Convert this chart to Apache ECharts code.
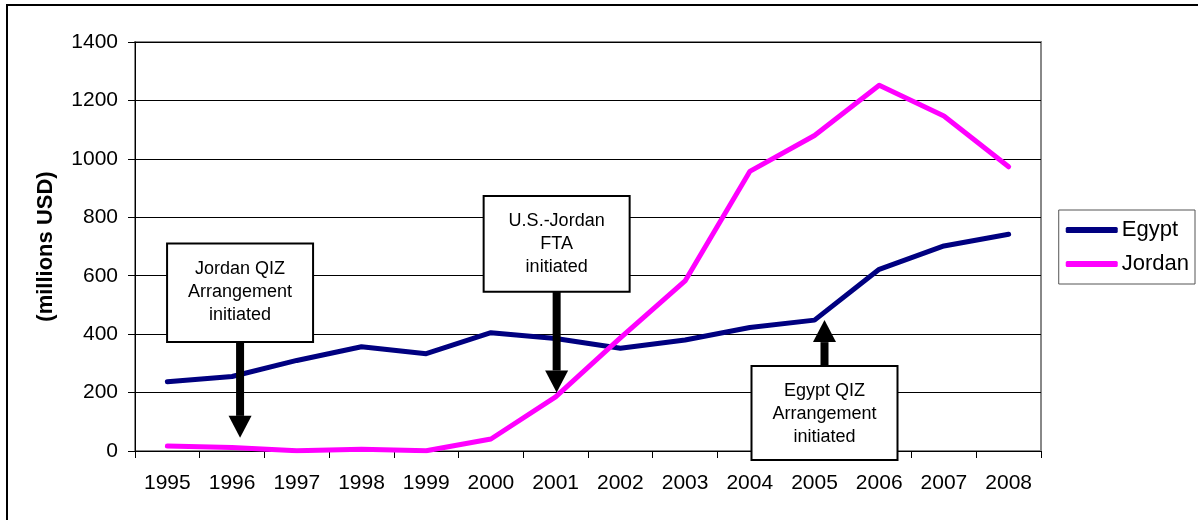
<!DOCTYPE html>
<html>
<head>
<meta charset="utf-8">
<script src="https://cdn.jsdelivr.net/npm/echarts@6/dist/echarts.min.js"></script>
<style>
  html, body { margin: 0; padding: 0; background: #fff; }
  #chart { width: 1198px; height: 520px; }
</style>
</head>
<body>
<div id="chart"></div>
<script>
// Years on the category axis
const years = ['1995', '1996', '1997', '1998', '1999', '2000', '2001',
               '2002', '2003', '2004', '2005', '2006', '2007', '2008'];

// QIZ / FTA exports, millions USD
const egypt  = [237, 255, 310, 357, 333, 405, 385, 352, 380, 423, 448, 622, 702, 742];
const jordan = [17, 12, 1, 6, 1, 41, 185, 387, 582, 957, 1080, 1252, 1147, 973];

// Value-axis ticks
const yTicks = [0, 200, 400, 600, 800, 1000, 1200, 1400];

// Event callouts: label, year of the event, value the arrow points at,
// value range covered by the box, and a small horizontal nudge in px
const calloutText  = ['Jordan QIZ\nArrangement\ninitiated', 'U.S.-Jordan\nFTA\ninitiated', 'Egypt QIZ\nArrangement\ninitiated'];
const calloutYear  = ['1996', '2001', '2005'];
const calloutTip   = [45, 200, 448];
const calloutBoxTop = [710, 873, 291];
const calloutBoxBot = [373, 545, -31];
const calloutShift = [8, 1, 10];

const FONT = 'Liberation Sans, Arial, sans-serif';

const chart = echarts.init(document.getElementById('chart'), null, { renderer: 'canvas' });

chart.setOption({
  backgroundColor: '#ffffff',
  animation: false,
  grid: { left: 135, right: 157, top: 42, bottom: 69, containLabel: false,
          show: true, borderColor: '#888888', borderWidth: 2, backgroundColor: 'transparent' },
  legend: {
    right: 3, top: 210, orient: 'vertical',
    itemWidth: 52, itemHeight: 6, itemGap: 12,
    padding: [9, 6, 9, 7],
    borderColor: '#555555', borderWidth: 1,
    icon: 'roundRect',
    textStyle: { fontFamily: FONT, fontSize: 22, color: '#000', padding: [0, 0, 0, -1] },
    data: ['Egypt', 'Jordan']
  },
  xAxis: {
    type: 'category',
    data: years,
    boundaryGap: true,
    axisLine: { lineStyle: { color: '#000', width: 1 } },
    axisTick: { show: true, length: 7, lineStyle: { color: '#000' } },
    axisLabel: { fontFamily: FONT, fontSize: 21, color: '#000', margin: 22 },
    splitLine: { show: false }
  },
  yAxis: {
    type: 'value',
    min: yTicks[0], max: yTicks[yTicks.length - 1], interval: 200,
    name: '(millions USD)',
    nameLocation: 'middle', nameGap: 78, nameRotate: 90,
    nameTextStyle: { fontFamily: FONT, fontSize: 22, fontWeight: 'bold', color: '#000' },
    axisLine: { show: true, lineStyle: { color: '#000', width: 1 } },
    axisTick: { show: true, length: 7, lineStyle: { color: '#000' } },
    axisLabel: { fontFamily: FONT, fontSize: 21, color: '#000', margin: 17,
                 formatter: v => String(v) },
    splitLine: { show: true, lineStyle: { color: '#000', width: 1 } }
  },
  series: [
    { name: 'Egypt', type: 'line', data: egypt, symbol: 'none',
      lineStyle: { color: '#000080', width: 5, cap: 'round', join: 'round' },
      itemStyle: { color: '#000080' }, z: 3 },
    { name: 'Jordan', type: 'line', data: jordan, symbol: 'none',
      lineStyle: { color: '#ff00ff', width: 5, cap: 'round', join: 'round' },
      itemStyle: { color: '#ff00ff' }, z: 4 }
  ]
});

// Callout boxes with thick arrows, placed from data coordinates
function drawCallouts() {
  const els = [
    // outer frame of the whole figure
    { type: 'rect', shape: { x: 7, y: 5, width: 1300, height: 600 },
      style: { fill: 'none', stroke: '#000', lineWidth: 2 }, z: 1, silent: true }
  ];
  const boxW = 146;
  calloutText.forEach((txt, i) => {
    const tip = chart.convertToPixel({ gridIndex: 0 }, [calloutYear[i], calloutTip[i]]);
    const top = chart.convertToPixel({ gridIndex: 0 }, [calloutYear[i], calloutBoxTop[i]]);
    const bot = chart.convertToPixel({ gridIndex: 0 }, [calloutYear[i], calloutBoxBot[i]]);
    const cx = tip[0] + calloutShift[i];
    const tx = cx;
    const bx = cx - boxW / 2;
    const pointsDown = tip[1] > bot[1];
    const headH = 22, headW = 23, shaftW = 8;
    let shaft, head;
    if (pointsDown) {
      shaft = { x: tx - shaftW / 2, y: bot[1], width: shaftW, height: tip[1] - headH - bot[1] };
      head = [[tx - headW / 2, tip[1] - headH], [tx + headW / 2, tip[1] - headH], [tx, tip[1]]];
    } else {
      shaft = { x: tx - shaftW / 2, y: tip[1] + headH, width: shaftW, height: top[1] - tip[1] - headH };
      head = [[tx - headW / 2, tip[1] + headH], [tx + headW / 2, tip[1] + headH], [tx, tip[1]]];
    }
    els.push({ type: 'rect', shape: shaft, style: { fill: '#000' }, z: 20, silent: true });
    els.push({ type: 'polygon', shape: { points: head }, style: { fill: '#000' }, z: 20, silent: true });
    els.push({
      type: 'rect',
      shape: { x: bx, y: top[1], width: boxW, height: bot[1] - top[1] },
      style: { fill: '#fff', stroke: '#000', lineWidth: 2 }, z: 21, silent: true
    });
    els.push({
      type: 'text', x: cx, y: top[1] + 14, z: 22, silent: true,
      style: { text: txt, fill: '#000', font: '18px ' + FONT,
               textAlign: 'center', textVerticalAlign: 'top', lineHeight: 23 }
    });
  });
  chart.setOption({ graphic: { elements: els } });
}
drawCallouts();
</script>
</body>
</html>
